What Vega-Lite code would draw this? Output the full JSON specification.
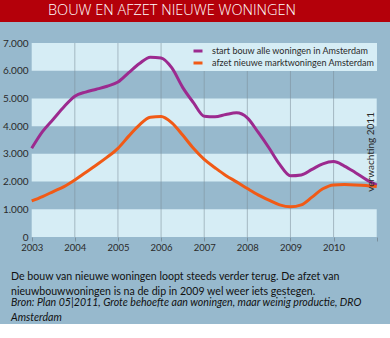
{
  "$schema": "https://vega.github.io/schema/vega-lite/v6.json",
  "background": "#97b9cd",
  "padding": 0,
  "spacing": 16,
  "columns": 1,
  "align": "none",
  "resolve": {"legend": {"color": "independent"}, "scale": {"color": "independent"}},
  "config": {
    "view": {"stroke": null},
    "font": "Lato",
    "axisY": {"grid": false, "domain": false, "ticks": false, "labelPadding": 4, "labelFontSize": 10, "labelColor": "#2a2a2a", "labelFont": "Lato", "minExtent": 0, "labelOverlap": false, "offset": -32},
    "axisX": {"grid": false, "domain": false, "ticks": true, "tickSize": 4, "tickColor": "#7a909e", "labelPadding": 1, "labelFontSize": 9.5, "labelColor": "#2a2a2a", "labelFont": "Lato", "labelOverlap": false}
  },
  "concat": [
    {
      "width": 390,
      "height": 22,
      "view": {"fill": "#b4000a", "stroke": null},
      "data": {"values": [{"titel": "BOUW EN AFZET NIEUWE WONINGEN"}]},
      "mark": {"type": "text", "color": "#ffffff", "font": "Open Sans", "fontWeight": 300, "fontSize": 14.5, "dx": -23, "baseline": "middle"},
      "encoding": {"text": {"field": "titel"}}
    },
    {
      "width": 390,
      "height": 194,
      "view": {"stroke": null},
      "title": {
        "text": ["De bouw van nieuwe woningen loopt steeds verder terug. De afzet van", "nieuwbouwwoningen is na de dip in 2009 wel weer iets gestegen."],
        "subtitle": ["Bron: Plan 05|2011, Grote behoefte aan woningen, maar weinig productie, DRO", "Amsterdam"],
        "orient": "bottom",
        "anchor": "start",
        "frame": "group",
        "dx": 11,
        "offset": 20,
        "font": "Lato",
        "fontSize": 10.6,
        "fontWeight": "normal",
        "color": "#111111",
        "lineHeight": 15.5,
        "subtitleFont": "Lato",
        "subtitleFontSize": 10.6,
        "subtitleFontStyle": "italic",
        "subtitleColor": "#111111",
        "subtitleLineHeight": 15.5,
        "subtitlePadding": 0
      },
      "layer": [
        {
          "data": {"values": [
            {"van": 0, "tot": 1000},
            {"van": 2000, "tot": 3000},
            {"van": 4000, "tot": 5000},
            {"van": 6000, "tot": 7000}
          ]},
          "mark": {"type": "rect", "color": "#d6edf5"},
          "encoding": {
            "x": {"datum": 2003, "type": "quantitative", "title": null, "scale": {"domain": [2002.265, 2011.308], "nice": false, "zero": false},
                  "axis": {"values": [2003, 2004, 2005, 2006, 2007, 2008, 2009, 2010, 2011], "tickCount": 10, "labelExpr": "datum.value < 2011 ? '' + datum.value : ''"}},
            "x2": {"datum": 2011},
            "y": {"field": "van", "type": "quantitative", "title": null, "scale": {"domain": [0, 7000], "nice": false, "zero": true},
                  "axis": {"values": [0, 1000, 2000, 3000, 4000, 5000, 6000, 7000], "tickCount": 8, "labelExpr": "replace(format(datum.value, ','), ',', '.')"}},
            "y2": {"field": "tot"}
          }
        },
        {
          "data": {"values": [{"jaar": 2004}, {"jaar": 2005}, {"jaar": 2006}]},
          "mark": {"type": "rule", "color": "#7c8e99", "strokeWidth": 1, "opacity": 0.55},
          "encoding": {
            "x": {"field": "jaar", "type": "quantitative", "title": null,
                  "axis": {"values": [2003, 2004, 2005, 2006, 2007, 2008, 2009, 2010, 2011], "tickCount": 10, "labelExpr": "datum.value < 2011 ? '' + datum.value : ''"}}
          }
        },
        {
          "data": {"values": [{"jaar": 2007}, {"jaar": 2008}, {"jaar": 2009}, {"jaar": 2010}]},
          "mark": {"type": "rule", "color": "#7c8e99", "strokeWidth": 1, "opacity": 0.55},
          "encoding": {
            "x": {"field": "jaar", "type": "quantitative", "title": null,
                  "axis": {"values": [2003, 2004, 2005, 2006, 2007, 2008, 2009, 2010, 2011], "tickCount": 10, "labelExpr": "datum.value < 2011 ? '' + datum.value : ''"}},
            "y": {"datum": 0, "type": "quantitative",
                  "axis": {"values": [0, 1000, 2000, 3000, 4000, 5000, 6000, 7000], "tickCount": 8, "labelExpr": "replace(format(datum.value, ','), ',', '.')"}},
            "y2": {"datum": 6000}
          }
        },
        {
          "data": {"values": [
            {"reeks": "start bouw alle woningen in Amsterdam", "jaar": 2003.00, "waarde": 3200},
            {"reeks": "start bouw alle woningen in Amsterdam", "jaar": 2003.25, "waarde": 3800},
            {"reeks": "start bouw alle woningen in Amsterdam", "jaar": 2003.50, "waarde": 4250},
            {"reeks": "start bouw alle woningen in Amsterdam", "jaar": 2003.75, "waarde": 4700},
            {"reeks": "start bouw alle woningen in Amsterdam", "jaar": 2004.00, "waarde": 5080},
            {"reeks": "start bouw alle woningen in Amsterdam", "jaar": 2004.25, "waarde": 5230},
            {"reeks": "start bouw alle woningen in Amsterdam", "jaar": 2004.50, "waarde": 5330},
            {"reeks": "start bouw alle woningen in Amsterdam", "jaar": 2004.75, "waarde": 5440},
            {"reeks": "start bouw alle woningen in Amsterdam", "jaar": 2005.00, "waarde": 5590},
            {"reeks": "start bouw alle woningen in Amsterdam", "jaar": 2005.25, "waarde": 5930},
            {"reeks": "start bouw alle woningen in Amsterdam", "jaar": 2005.50, "waarde": 6260},
            {"reeks": "start bouw alle woningen in Amsterdam", "jaar": 2005.75, "waarde": 6490},
            {"reeks": "start bouw alle woningen in Amsterdam", "jaar": 2006.00, "waarde": 6460},
            {"reeks": "start bouw alle woningen in Amsterdam", "jaar": 2006.25, "waarde": 6100},
            {"reeks": "start bouw alle woningen in Amsterdam", "jaar": 2006.50, "waarde": 5400},
            {"reeks": "start bouw alle woningen in Amsterdam", "jaar": 2006.75, "waarde": 4850},
            {"reeks": "start bouw alle woningen in Amsterdam", "jaar": 2007.00, "waarde": 4360},
            {"reeks": "start bouw alle woningen in Amsterdam", "jaar": 2007.25, "waarde": 4340},
            {"reeks": "start bouw alle woningen in Amsterdam", "jaar": 2007.50, "waarde": 4420},
            {"reeks": "start bouw alle woningen in Amsterdam", "jaar": 2007.75, "waarde": 4480},
            {"reeks": "start bouw alle woningen in Amsterdam", "jaar": 2008.00, "waarde": 4300},
            {"reeks": "start bouw alle woningen in Amsterdam", "jaar": 2008.25, "waarde": 3780},
            {"reeks": "start bouw alle woningen in Amsterdam", "jaar": 2008.50, "waarde": 3220},
            {"reeks": "start bouw alle woningen in Amsterdam", "jaar": 2008.75, "waarde": 2620},
            {"reeks": "start bouw alle woningen in Amsterdam", "jaar": 2009.00, "waarde": 2210},
            {"reeks": "start bouw alle woningen in Amsterdam", "jaar": 2009.25, "waarde": 2240},
            {"reeks": "start bouw alle woningen in Amsterdam", "jaar": 2009.50, "waarde": 2440},
            {"reeks": "start bouw alle woningen in Amsterdam", "jaar": 2009.75, "waarde": 2640},
            {"reeks": "start bouw alle woningen in Amsterdam", "jaar": 2010.00, "waarde": 2720},
            {"reeks": "start bouw alle woningen in Amsterdam", "jaar": 2010.25, "waarde": 2560},
            {"reeks": "start bouw alle woningen in Amsterdam", "jaar": 2010.50, "waarde": 2330},
            {"reeks": "start bouw alle woningen in Amsterdam", "jaar": 2010.75, "waarde": 2080},
            {"reeks": "start bouw alle woningen in Amsterdam", "jaar": 2011.00, "waarde": 1870},
            {"reeks": "afzet nieuwe marktwoningen Amsterdam", "jaar": 2003.00, "waarde": 1300},
            {"reeks": "afzet nieuwe marktwoningen Amsterdam", "jaar": 2003.25, "waarde": 1460},
            {"reeks": "afzet nieuwe marktwoningen Amsterdam", "jaar": 2003.50, "waarde": 1640},
            {"reeks": "afzet nieuwe marktwoningen Amsterdam", "jaar": 2003.75, "waarde": 1820},
            {"reeks": "afzet nieuwe marktwoningen Amsterdam", "jaar": 2004.00, "waarde": 2060},
            {"reeks": "afzet nieuwe marktwoningen Amsterdam", "jaar": 2004.25, "waarde": 2330},
            {"reeks": "afzet nieuwe marktwoningen Amsterdam", "jaar": 2004.50, "waarde": 2600},
            {"reeks": "afzet nieuwe marktwoningen Amsterdam", "jaar": 2004.75, "waarde": 2880},
            {"reeks": "afzet nieuwe marktwoningen Amsterdam", "jaar": 2005.00, "waarde": 3200},
            {"reeks": "afzet nieuwe marktwoningen Amsterdam", "jaar": 2005.25, "waarde": 3640},
            {"reeks": "afzet nieuwe marktwoningen Amsterdam", "jaar": 2005.50, "waarde": 4050},
            {"reeks": "afzet nieuwe marktwoningen Amsterdam", "jaar": 2005.75, "waarde": 4320},
            {"reeks": "afzet nieuwe marktwoningen Amsterdam", "jaar": 2006.00, "waarde": 4350},
            {"reeks": "afzet nieuwe marktwoningen Amsterdam", "jaar": 2006.25, "waarde": 4120},
            {"reeks": "afzet nieuwe marktwoningen Amsterdam", "jaar": 2006.50, "waarde": 3680},
            {"reeks": "afzet nieuwe marktwoningen Amsterdam", "jaar": 2006.75, "waarde": 3200},
            {"reeks": "afzet nieuwe marktwoningen Amsterdam", "jaar": 2007.00, "waarde": 2800},
            {"reeks": "afzet nieuwe marktwoningen Amsterdam", "jaar": 2007.25, "waarde": 2500},
            {"reeks": "afzet nieuwe marktwoningen Amsterdam", "jaar": 2007.50, "waarde": 2220},
            {"reeks": "afzet nieuwe marktwoningen Amsterdam", "jaar": 2007.75, "waarde": 1990},
            {"reeks": "afzet nieuwe marktwoningen Amsterdam", "jaar": 2008.00, "waarde": 1750},
            {"reeks": "afzet nieuwe marktwoningen Amsterdam", "jaar": 2008.25, "waarde": 1520},
            {"reeks": "afzet nieuwe marktwoningen Amsterdam", "jaar": 2008.50, "waarde": 1330},
            {"reeks": "afzet nieuwe marktwoningen Amsterdam", "jaar": 2008.75, "waarde": 1160},
            {"reeks": "afzet nieuwe marktwoningen Amsterdam", "jaar": 2009.00, "waarde": 1090},
            {"reeks": "afzet nieuwe marktwoningen Amsterdam", "jaar": 2009.25, "waarde": 1160},
            {"reeks": "afzet nieuwe marktwoningen Amsterdam", "jaar": 2009.50, "waarde": 1440},
            {"reeks": "afzet nieuwe marktwoningen Amsterdam", "jaar": 2009.75, "waarde": 1740},
            {"reeks": "afzet nieuwe marktwoningen Amsterdam", "jaar": 2010.00, "waarde": 1880},
            {"reeks": "afzet nieuwe marktwoningen Amsterdam", "jaar": 2010.25, "waarde": 1890},
            {"reeks": "afzet nieuwe marktwoningen Amsterdam", "jaar": 2010.50, "waarde": 1880},
            {"reeks": "afzet nieuwe marktwoningen Amsterdam", "jaar": 2010.75, "waarde": 1860},
            {"reeks": "afzet nieuwe marktwoningen Amsterdam", "jaar": 2011.00, "waarde": 1820}
          ]},
          "mark": {"type": "line", "strokeWidth": 3, "interpolate": "monotone"},
          "encoding": {
            "x": {"field": "jaar", "type": "quantitative", "title": null,
                  "axis": {"values": [2003, 2004, 2005, 2006, 2007, 2008, 2009, 2010, 2011], "tickCount": 10, "labelExpr": "datum.value < 2011 ? '' + datum.value : ''"}},
            "y": {"field": "waarde", "type": "quantitative", "title": null,
                  "axis": {"values": [0, 1000, 2000, 3000, 4000, 5000, 6000, 7000], "tickCount": 8, "labelExpr": "replace(format(datum.value, ','), ',', '.')"}},
            "color": {
              "field": "reeks", "type": "nominal",
              "scale": {"domain": ["start bouw alle woningen in Amsterdam", "afzet nieuwe marktwoningen Amsterdam"], "range": ["#9c2a8f", "#f15a16"]},
              "legend": {"orient": "none", "legendX": 190, "legendY": 0, "title": null, "fillColor": "#d6edf5", "padding": 2, "symbolType": "stroke", "symbolStrokeWidth": 3, "symbolSize": 81, "labelFontSize": 9, "labelColor": "#2a2a2a", "labelFont": "Lato", "labelOffset": 8, "rowPadding": 0, "labelLimit": 300}
            }
          }
        },
        {
          "data": {"values": [{"tekst": "verwachting 2011"}]},
          "mark": {"type": "text", "angle": 270, "align": "center", "baseline": "alphabetic", "dy": -3, "fontSize": 10, "color": "#2a2a2a", "font": "Lato"},
          "encoding": {
            "x": {"datum": 2011, "type": "quantitative",
                  "axis": {"values": [2003, 2004, 2005, 2006, 2007, 2008, 2009, 2010, 2011], "tickCount": 10, "labelExpr": "datum.value < 2011 ? '' + datum.value : ''"}},
            "y": {"datum": 3070, "type": "quantitative",
                  "axis": {"values": [0, 1000, 2000, 3000, 4000, 5000, 6000, 7000], "tickCount": 8, "labelExpr": "replace(format(datum.value, ','), ',', '.')"}},
            "text": {"field": "tekst"}
          }
        }
      ]
    }
  ]
}
